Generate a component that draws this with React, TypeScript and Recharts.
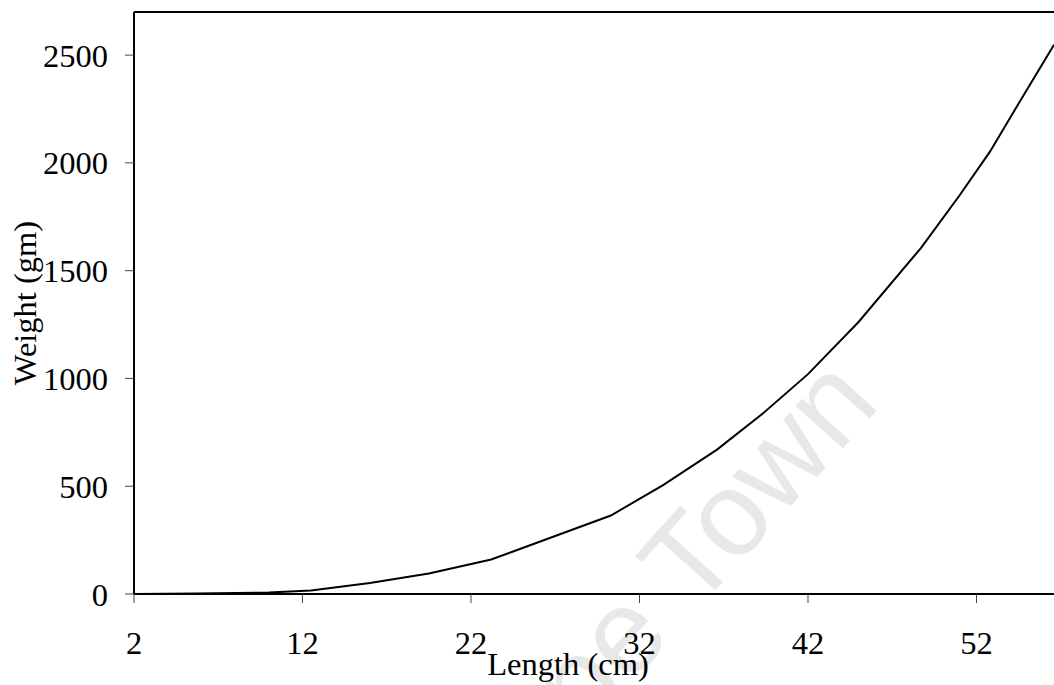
import { LineChart, Line, XAxis, YAxis, ReferenceLine } from "recharts";

// length (cm) vs weight (gm)
const lengths = [2, 5.7, 10, 12.5, 16, 19.5, 23.2, 24.9, 30.3, 33.4, 36.6, 39.3, 42, 45, 48.7, 51, 52.8, 54.5, 56.6];
const weights = [0, 2, 7, 16, 51, 95, 160, 209, 364, 505, 670, 836, 1020, 1262, 1605, 1850, 2052, 2275, 2548];

const xTicks = [2, 12, 22, 32, 42, 52];
const yTicks = [0, 500, 1000, 1500, 2000, 2500];

const data = lengths.map((len, i) => ({ len, w: weights[i] }));

const FONT = "'Liberation Serif', 'Times New Roman', serif";
const FS = 32.5;

export default function App() {
  return (
    <div
      style={{
        position: "absolute",
        left: 0,
        top: 0,
        width: 1054,
        height: 685,
        overflow: "hidden",
        background: "#fff",
      }}
    >
      {/* faint watermark behind the chart */}
      <svg width={1054} height={685} style={{ position: "absolute", left: 0, top: 0 }}>
        <text
          x={882}
          y={405}
          textAnchor="end"
          transform="rotate(-48, 882, 405)"
          fontFamily="'Liberation Sans', Arial, sans-serif"
          fontSize={120}
          fill="#e8e8e8"
        >
          University of Cape Town
        </text>
      </svg>
      <div style={{ position: "absolute", left: 0, top: 0 }}>
        <LineChart width={1054} height={685} data={data} margin={{ top: 12, right: 0, left: 0, bottom: 0 }}>
          <XAxis
            dataKey="len"
            type="number"
            domain={[2, 56.6]}
            ticks={xTicks}
            allowDataOverflow
            height={91}
            axisLine={{ stroke: "#000", strokeWidth: 2 }}
            tickLine={{ stroke: "#444" }}
            tickSize={9}
            tickMargin={28}
            tick={{ fill: "#000", fontSize: FS, fontFamily: FONT }}
            label={{
              value: "Length (cm)",
              content: ({ viewBox }: any) => (
                <text
                  x={viewBox.x + viewBox.width / 2 - 26}
                  y={viewBox.y + 81}
                  textAnchor="middle"
                  fill="#000"
                  fontSize={FS}
                  fontFamily={FONT}
                >
                  Length (cm)
                </text>
              ),
            }}
          />
          <YAxis
            type="number"
            domain={[0, 2700]}
            ticks={yTicks}
            allowDataOverflow
            width={134}
            axisLine={{ stroke: "#000", strokeWidth: 2 }}
            tickLine={{ stroke: "#444" }}
            tickSize={9}
            tickMargin={17}
            tick={{ fill: "#000", fontSize: FS, fontFamily: FONT }}
            label={{
              value: "Weight (gm)",
              content: ({ viewBox }: any) => {
                const x = viewBox.x + 36;
                const y = viewBox.y + viewBox.height / 2;
                return (
                  <text
                    x={x}
                    y={y}
                    transform={`rotate(-90, ${x}, ${y})`}
                    textAnchor="middle"
                    fill="#000"
                    fontSize={FS}
                    fontFamily={FONT}
                  >
                    Weight (gm)
                  </text>
                );
              },
            }}
          />
          <ReferenceLine y={2700} stroke="#000" strokeWidth={2} />
          <Line
            type="linear"
            dataKey="w"
            stroke="#000"
            strokeWidth={2}
            dot={false}
            isAnimationActive={false}
          />
        </LineChart>
      </div>
    </div>
  );
}
